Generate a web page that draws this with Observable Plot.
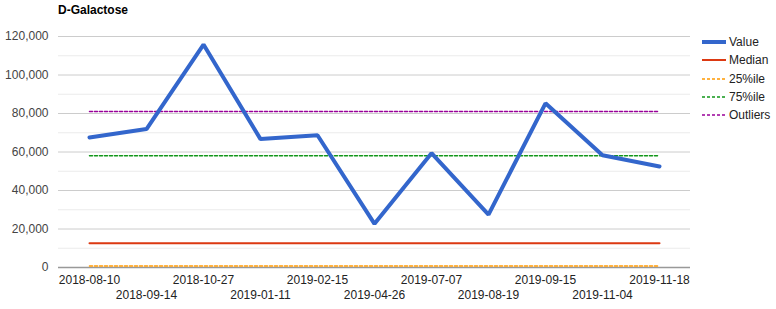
<!DOCTYPE html>
<html>
<head>
<meta charset="utf-8">
<script src="https://cdn.jsdelivr.net/npm/d3@7"></script>
<script src="https://cdn.jsdelivr.net/npm/@observablehq/plot@0.6"></script>
<style>
  body { margin: 0; background: #fff; font-family: Arial, "Liberation Sans", sans-serif; }
  #wrap { position: relative; width: 776px; height: 309px; }
  #title { position: absolute; left: 58px; top: 3px; font-size: 12px; font-weight: bold; color: #000; }
  #legend { position: absolute; left: 702px; top: 33px; font-size: 12px; color: #222; }
  .row { height: 18.3px; display: flex; align-items: center; }
  .row svg { margin-right: 3px; }
</style>
</head>
<body>
<div id="wrap">
  <div id="chart"></div>
  <div id="title">D-Galactose</div>
  <div id="legend"></div>
</div>
<script>
const dates = ["2018-08-10","2018-09-14","2018-10-27","2019-01-11","2019-02-15","2019-04-26","2019-07-07","2019-08-19","2019-09-15","2019-11-04","2019-11-18"];
const values = [67500, 71900, 115800, 66700, 68700, 22700, 59400, 27500, 85300, 58300, 52500];
const median = 12600;
const p25 = 800;
const p75 = 58000;
const outliers = 81000;
const yTicks = [0, 20000, 40000, 60000, 80000, 100000, 120000];
const yMinor = [10000, 30000, 50000, 70000, 90000, 110000];

const series = [
  {name: "Value", color: "#3366cc", width: 4, dash: null},
  {name: "Median", color: "#dc3912", width: 2, dash: null},
  {name: "25%ile", color: "#ff9900", width: 1.5, dash: "3,2"},
  {name: "75%ile", color: "#109618", width: 1.5, dash: "3,2"},
  {name: "Outliers", color: "#990099", width: 1.5, dash: "3,2"}
];

const valueData = dates.map((d, i) => ({date: d, v: values[i]}));
const flat = (v) => dates.map(d => ({date: d, v}));

const even = dates.filter((d, i) => i % 2 === 0);
const odd = dates.filter((d, i) => i % 2 === 1);

const chart = Plot.plot({
  width: 776,
  height: 309,
  marginLeft: 58,
  marginRight: 86,
  marginTop: 36,
  marginBottom: 42,
  style: {fontFamily: "Arial, 'Liberation Sans', sans-serif", fontSize: "12px", color: "#444", background: "#fff"},
  x: {type: "point", domain: dates, padding: 0.5},
  y: {domain: [0, 120000]},
  marks: [
    Plot.ruleY(yMinor, {stroke: "#ebebeb", strokeWidth: 1}),
    Plot.ruleY(yTicks.slice(1), {stroke: "#cccccc", strokeWidth: 1}),
    Plot.ruleY([0], {stroke: "#999999", strokeWidth: 1.5}),
    Plot.axisY(yTicks, {tickSize: 0, tickPadding: 10, tickFormat: d3.format(","), label: null, fill: "#444", fontSize: 12}),
    Plot.axisX(even, {tickSize: 0, tickPadding: 8, label: null, fill: "#222", fontSize: 12}),
    Plot.axisX(odd, {tickSize: 0, tickPadding: 23, label: null, fill: "#222", fontSize: 12}),
    Plot.lineY(flat(p25), {x: "date", y: "v", stroke: series[2].color, strokeWidth: series[2].width, strokeDasharray: series[2].dash}),
    Plot.lineY(flat(p75), {x: "date", y: "v", stroke: series[3].color, strokeWidth: series[3].width, strokeDasharray: series[3].dash}),
    Plot.lineY(flat(outliers), {x: "date", y: "v", stroke: series[4].color, strokeWidth: series[4].width, strokeDasharray: series[4].dash}),
    Plot.lineY(flat(median), {x: "date", y: "v", stroke: series[1].color, strokeWidth: series[1].width}),
    Plot.lineY(valueData, {x: "date", y: "v", stroke: series[0].color, strokeWidth: series[0].width, strokeLinejoin: "miter"})
  ]
});
document.getElementById("chart").appendChild(chart);

const legend = document.getElementById("legend");
for (const s of series) {
  const row = document.createElement("div");
  row.className = "row";
  const dash = s.dash ? ` stroke-dasharray="${s.dash}"` : "";
  row.innerHTML = `<svg width="24" height="8"><line x1="0" x2="24" y1="4" y2="4" stroke="${s.color}" stroke-width="${s.width}"${dash}/></svg><span>${s.name}</span>`;
  legend.appendChild(row);
}
</script>
</body>
</html>
